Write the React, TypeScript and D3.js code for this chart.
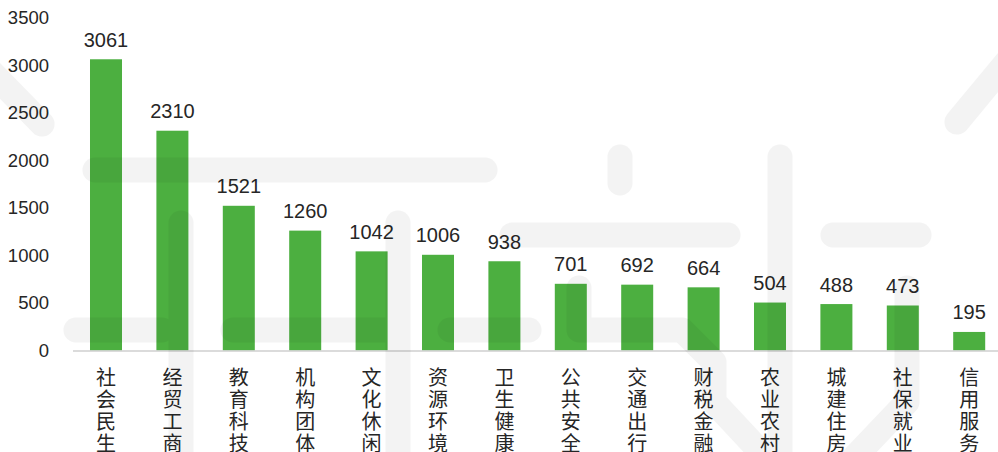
import React from "react";
import * as d3 from "d3";

const categories = ["社会民生", "经贸工商", "教育科技", "机构团体", "文化休闲", "资源环境", "卫生健康", "公共安全", "交通出行", "财税金融", "农业农村", "城建住房", "社保就业", "信用服务"];
const values = [3061, 2310, 1521, 1260, 1042, 1006, 938, 701, 692, 664, 504, 488, 473, 195];
const yTicks = [0, 500, 1000, 1500, 2000, 2500, 3000, 3500];

const W = 998;
const H = 452;

// faint background watermark strokes (decorative)
const watermark = [
  "M-30,50 L42,124",
  "M95,170 L485,170",
  "M181,223 L181,470",
  "M398,223 L398,470",
  "M76,330 L162,330",
  "M233,330 L397,330",
  "M450,330 L529,330",
  "M512,235 L728,235",
  "M833,235 L919,235",
  "M620,157 L620,183",
  "M780,157 L780,470",
  "M579,288 L579,330 L682,330 L714,362 L714,402 L770,462",
  "M907,288 L907,402 L850,462",
  "M957,122 L1015,52",
];

export default function App() {
  const x = d3
    .scaleBand<string>()
    .domain(categories)
    .range([72.8, 1002.4])
    .paddingInner(0.518)
    .paddingOuter(0.259);
  const y = d3.scaleLinear().domain([0, 3500]).range([350.5, 17.5]);
  const ticks = y.ticks(7).filter((t) => yTicks.includes(t));
  const numFont = "'Liberation Sans', Arial, sans-serif";
  const cjkFont = "'Noto Sans CJK SC', sans-serif";
  const textColor = "#262626";

  return (
    <div style={{ position: "absolute", left: 0, top: 0, width: W, height: H, background: "#fff" }}>
      <svg width={W} height={H} style={{ display: "block" }}>
        <rect x={0} y={0} width={W} height={H} fill="#fff" />
        {/* y tick labels */}
        {ticks.map((t) => (
          <text
            key={t}
            x={49}
            y={y(t)}
            dy="0.35em"
            textAnchor="end"
            fontFamily={numFont}
            fontSize={18.5}
            fill={textColor}
          >
            {t}
          </text>
        ))}
        {/* bars */}
        {categories.map((c, i) => (
          <rect
            key={c}
            x={x(c)}
            y={y(values[i])}
            width={x.bandwidth()}
            height={y(0) - y(values[i])}
            fill="#4CAF40"
          />
        ))}
        {/* value labels */}
        {categories.map((c, i) => (
          <text
            key={c + "v"}
            x={(x(c) as number) + x.bandwidth() / 2}
            y={y(values[i]) - 12.5}
            textAnchor="middle"
            fontFamily={numFont}
            fontSize={20}
            fill={textColor}
          >
            {values[i]}
          </text>
        ))}
        {/* axis baseline */}
        <line x1={73} x2={998} y1={y(0) + 0.5} y2={y(0) + 0.5} stroke="#cfcfcf" strokeWidth={1.5} />
        {/* category labels, vertical stacked characters */}
        {categories.map((c) =>
          Array.from(c).map((ch, k) => (
            <text
              key={c + "c" + k}
              x={(x(c) as number) + x.bandwidth() / 2}
              y={385 + k * 22}
              textAnchor="middle"
              fontFamily={cjkFont}
              fontSize={20}
              fill={textColor}
            >
              {ch}
            </text>
          ))
        )}
        {/* watermark overlay */}
        <g opacity={0.045}>
          {watermark.map((d, i) => (
            <path
              key={i}
              d={d}
              fill="none"
              stroke="#000"
              strokeWidth={25}
              strokeLinecap="round"
              strokeLinejoin="round"
            />
          ))}
        </g>
      </svg>
    </div>
  );
}
